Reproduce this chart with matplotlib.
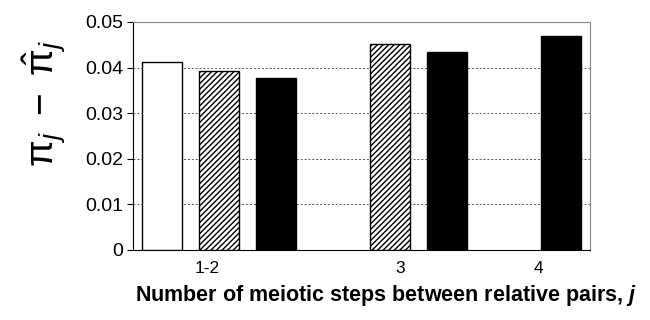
import numpy as np
import matplotlib
matplotlib.use('Agg')
import matplotlib.pyplot as plt

plt.rcParams['font.family'] = ['Liberation Sans', 'DejaVu Sans']
plt.rcParams['hatch.linewidth'] = 1.0
plt.rcParams['mathtext.fontset'] = 'custom'
plt.rcParams['mathtext.bfit'] = 'Liberation Sans:bold:italic'
plt.rcParams['mathtext.rm'] = 'Liberation Sans'
plt.rcParams['mathtext.it'] = 'Liberation Sans:italic'

categories = ['1-2', '3', '4']
# values per series (None = no bar in that category)
white_vals = [0.0413, None, None]
hatch_vals = [0.0393, 0.0452, None]
black_vals = [0.0378, 0.0435, 0.0469]

yticks = [0, 0.01, 0.02, 0.03, 0.04, 0.05]
yticklabels = ['0', '0.01', '0.02', '0.03', '0.04', '0.05']

# layout of the clusters (axis units ~ pixels)
group_left = [9, 237, 408]
tick_pos = [74, 267, 405]
step = 57
width = 40

fig = plt.figure(figsize=(6.5, 3.2), dpi=100)
ax = fig.add_axes([133/650, 70/320, 457/650, 228/320])

series = [(white_vals, dict(facecolor='white', edgecolor='black')),
          (hatch_vals, dict(facecolor='white', edgecolor='black', hatch='//////')),
          (black_vals, dict(facecolor='black', edgecolor='black'))]

for gi in range(len(categories)):
    k = 0
    for vals, style in series:
        v = vals[gi]
        if v is None:
            continue
        ax.bar(group_left[gi] + k*step, v, width=width, align='edge',
               linewidth=1.0, zorder=3, **style)
        k += 1

ax.set_xlim(0, 457)
ax.set_ylim(0, 0.05)
ax.set_yticks(yticks)
ax.set_yticklabels(yticklabels, fontsize=14)
ax.set_xticks(tick_pos)
ax.set_xticklabels(categories, fontsize=12.5)
ax.tick_params(axis='x', length=0, pad=8)
ax.tick_params(axis='y', length=4, width=0.8, direction='out', pad=3)

for y in yticks[1:-1]:
    ax.axhline(y, color='#555555', linestyle=(0, (2, 2)), linewidth=0.7, zorder=1)

ax.spines['top'].set_color('#888888')
ax.spines['right'].set_color('#888888')
ax.spines['left'].set_color('black')
ax.spines['bottom'].set_color('black')

fig.text(45/650, 1 - 103/320, r'$\mathrm{\pi}_j\ -\ \hat{\mathrm{\pi}}_j$',
         fontsize=28, rotation=90, ha='center', va='center')
fig.text(386/650, 1 - 296/320,
         r'Number of meiotic steps between relative pairs, $\mathbfit{j}$',
         fontsize=15.5, fontweight='bold', ha='center', va='center')

fig.savefig('out.png', dpi=100)
